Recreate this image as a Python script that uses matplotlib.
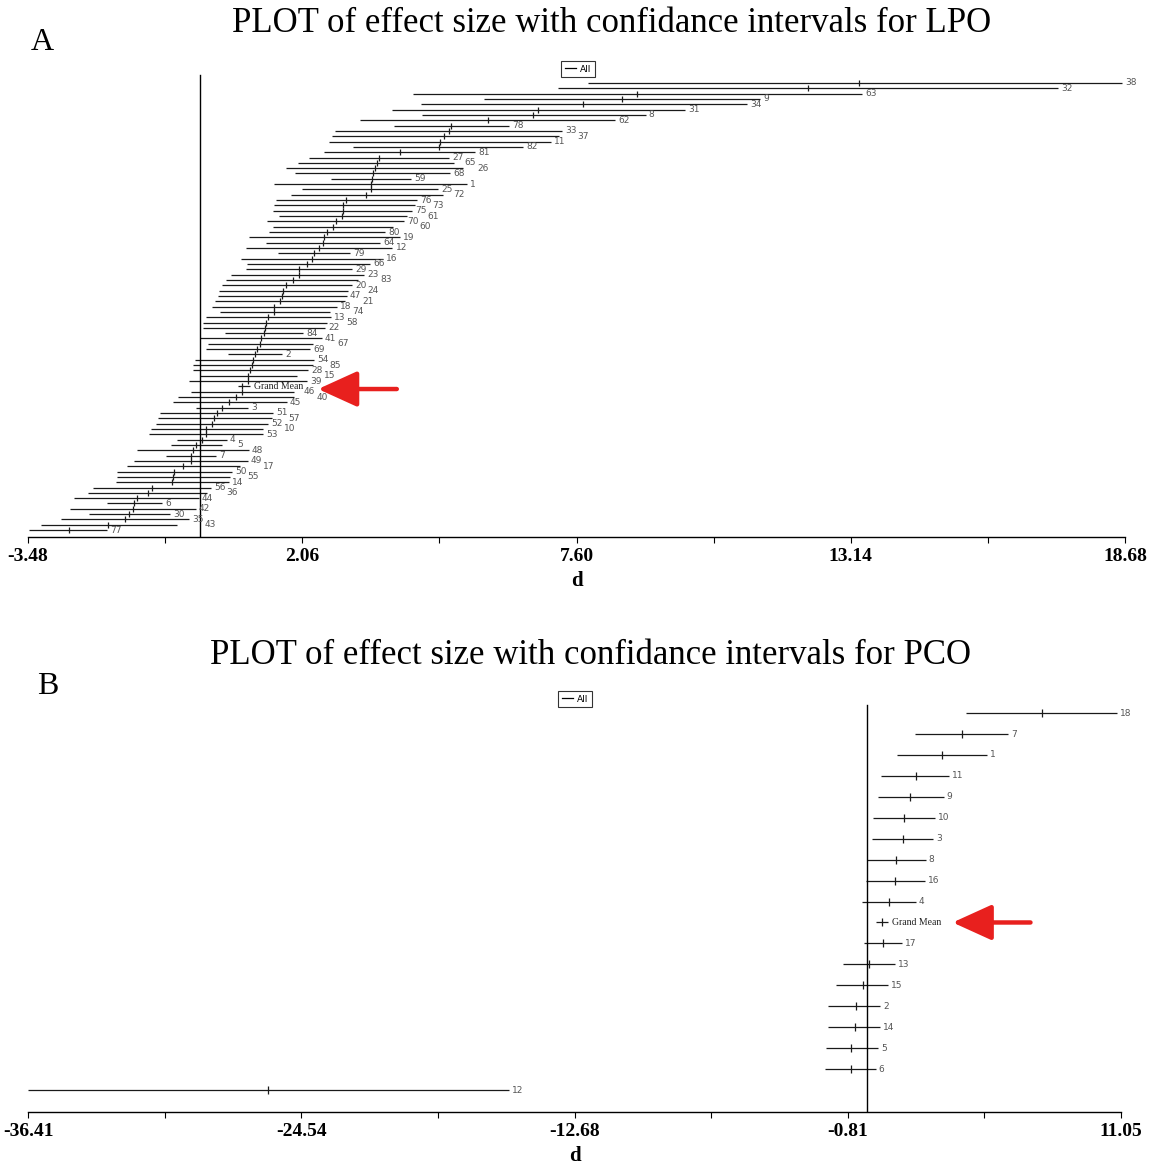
import matplotlib.pyplot as plt
from matplotlib.lines import Line2D

# LPO studies, top to bottom (Grand Mean sits in the list at its sorted place)
lpo_labels = ['38', '32', '63', '9', '34', '31', '8', '62', '78', '33', '37', '11', '82', '81',
              '27', '65', '26', '68', '59', '1', '25', '72', '76', '73', '75', '61', '70', '60',
              '80', '19', '64', '12', '79', '16', '66', '29', '23', '83', '20', '24', '47', '21',
              '18', '74', '13', '58', '22', '84', '41', '67', '69', '2', '54', '85', '28', '15',
              '39', 'Grand Mean', '46', '40', '45', '3', '51', '57', '52', '10', '53', '4', '5',
              '48', '7', '49', '17', '50', '55', '14', '56', '36', '44', '6', '42', '30', '35',
              '43', '77']
lpo_low = [7.83, 7.23, 4.30, 5.73, 4.46, 3.87, 4.48, 3.23, 3.91, 2.72, 2.66, 2.60, 3.09, 2.50,
           2.20, 1.97, 1.73, 1.91, 2.64, 1.49, 2.06, 1.83, 1.53, 1.49, 1.47, 1.59, 1.35, 1.47,
           1.39, 0.98, 1.33, 0.92, 1.57, 0.82, 0.94, 0.92, 0.62, 0.52, 0.44, 0.38, 0.36, 0.30,
           0.24, 0.40, 0.12, 0.06, 0.06, 0.50, 0.00, 0.16, 0.12, 0.56, -0.11, -0.15, -0.15, 0.00,
           -0.23, 0.76, -0.19, -0.45, -0.55, -0.09, -0.81, -0.85, -0.89, -0.99, -1.03, -0.47, -0.59,
           -1.28, -0.69, -1.34, -1.48, -1.68, -1.68, -1.70, -2.17, -2.27, -2.55, -1.88, -2.63, -2.25, -2.81,
           -3.22, -3.46]
lpo_mean = [13.31, 12.28, 8.82, 8.52, 7.73, 6.82, 6.72, 5.81, 5.07, 5.03, 4.92, 4.84, 4.82, 4.04,
            3.61, 3.57, 3.53, 3.49, 3.47, 3.45, 3.45, 3.35, 2.94, 2.88, 2.88, 2.86, 2.74, 2.68,
            2.56, 2.50, 2.48, 2.40, 2.30, 2.26, 2.16, 1.99, 1.99, 1.87, 1.73, 1.67, 1.65, 1.61,
            1.49, 1.49, 1.37, 1.33, 1.31, 1.29, 1.23, 1.21, 1.15, 1.11, 1.07, 1.05, 1.01, 0.96,
            0.96, 0.84, 0.84, 0.72, 0.58, 0.44, 0.34, 0.28, 0.24, 0.12, 0.12, 0.04, -0.09,
            -0.15, -0.19, -0.19, -0.35, -0.53, -0.55, -0.57, -0.98, -1.06, -1.28, -1.34, -1.36, -1.44, -1.52,
            -1.86, -2.65]
lpo_high = [18.62, 17.33, 13.37, 11.31, 11.05, 9.79, 9.00, 8.38, 6.24, 7.31, 7.25, 7.09, 6.52, 5.55,
            5.03, 5.13, 5.31, 5.05, 4.26, 5.39, 4.80, 4.90, 4.38, 4.34, 4.28, 4.18, 4.12, 3.89,
            3.73, 4.04, 3.63, 3.87, 3.03, 3.69, 3.43, 3.07, 3.31, 3.19, 3.07, 2.98, 2.96, 2.92,
            2.76, 2.62, 2.64, 2.56, 2.52, 2.08, 2.46, 2.28, 2.22, 1.65, 2.30, 2.28, 2.18, 1.95,
            2.16, 1.00, 1.89, 1.89, 1.75, 0.96, 1.47, 1.45, 1.37, 1.27, 1.27, 0.54, 0.44,
            0.98, 0.32, 0.96, 0.80, 0.64, 0.60, 0.58, 0.22, 0.14, -0.03, -0.77, -0.09, -0.61, -0.23,
            -0.47, -1.88]
lpo_ticks = [-3.48, 2.06, 7.60, 13.14, 18.68]

# PCO studies
pco_labels = ['18', '7', '1', '11', '9', '10', '3', '8', '16', '4', 'Grand Mean',
              '17', '13', '15', '2', '14', '5', '6', '12']
pco_low = [4.30, 2.09, 1.31, 0.62, 0.49, 0.27, 0.25, 0.01, -0.03, -0.20, 0.40,
           -0.12, -1.03, -1.33, -1.68, -1.68, -1.76, -1.81, -36.41]
pco_mean = [7.64, 4.13, 3.26, 2.13, 1.87, 1.61, 1.60, 1.27, 1.23, 0.97, 0.66,
            0.71, 0.10, -0.16, -0.46, -0.51, -0.68, -0.68, -25.97]
pco_high = [10.88, 6.16, 5.25, 3.56, 3.35, 2.96, 2.88, 2.57, 2.53, 2.13, 0.92,
            1.53, 1.22, 0.92, 0.58, 0.58, 0.49, 0.40, -15.54]
pco_ticks = [-36.41, -24.54, -12.68, -0.81, 11.05]

plt.rcParams['font.family'] = 'Liberation Serif'

W, H = 1155, 1166
fig = plt.figure(figsize=(W / 100, H / 100), dpi=100)

NUM_SIZE = 6.5      # pt, study numbers
GM_SIZE = 7         # pt, "Grand Mean"


def px_axes(left, right, top, bottom):
    return fig.add_axes([left / W, 1 - bottom / H, (right - left) / W, (bottom - top) / H])


def label_width(lab):
    # rough width in pixels at 100 dpi
    if lab == 'Grand Mean':
        return 50
    return len(lab) * 0.64 * NUM_SIZE * 100 / 72


def forest(ax, labels, low, mean, high, ticks, ybottom, ytop, vline_top, msize, width_px,
           cascade):
    n = len(labels)
    rows = list(range(n))
    ax.hlines(rows, low, high, color='#1a1a1a', lw=0.9)
    ax.plot(mean, rows, ls='none', marker='|', ms=msize, mew=0.9, color='#1a1a1a')

    ppu = width_px / (ticks[-1] - ticks[0])
    prev = None
    for i, lab in enumerate(labels):
        end_px = (high[i] - ticks[0]) * ppu
        x0 = end_px + 3
        w = label_width(lab)
        # push crowded numbers along so neighbouring rows stay readable
        if cascade and prev is not None and x0 < prev[1] + 1 and x0 + w > prev[0] - 1:
            x0 = prev[1] + 1
        prev = (x0, x0 + w)
        off = (x0 - end_px) * 0.72
        if lab == 'Grand Mean':
            ax.annotate(lab, (high[i], i), xytext=(off + 1, 0), textcoords='offset points',
                        fontsize=GM_SIZE, va='center', ha='left', color='#222')
        else:
            ax.annotate(lab, (high[i], i), xytext=(off, 0), textcoords='offset points',
                        fontsize=NUM_SIZE, va='center', ha='left', color='#555',
                        family='DejaVu Sans')
    ax.set_xlim(ticks[0], ticks[-1])
    ax.set_ylim(ybottom, ytop)
    ax.plot([0, 0], [vline_top, ybottom], color='black', lw=1.0)
    for s in ['top', 'right', 'left']:
        ax.spines[s].set_visible(False)
    ax.spines['bottom'].set_linewidth(1.0)
    ax.set_yticks([])
    ax.set_xticks(ticks)
    ax.set_xticklabels(['%.2f' % t for t in ticks], fontsize=14, fontweight='bold')
    ax.set_xticks([(a + b) / 2 for a, b in zip(ticks[:-1], ticks[1:])], minor=True)
    ax.tick_params(axis='x', which='both', direction='out', length=4, width=0.8, pad=4)
    ax.set_xlabel('d', fontsize=15, fontweight='bold', labelpad=4)


def arrow(ax, tip, tail, y):
    ax.annotate('', xy=(tip, y), xytext=(tail, y),
                arrowprops=dict(arrowstyle='-|>,head_length=1.1,head_width=0.5',
                                color='#e8201e', lw=3.2, mutation_scale=22,
                                shrinkA=0, shrinkB=0))


def all_legend(x, y):
    h = [Line2D([], [], color='black', lw=0.9)]
    fig.legend(h, ['All'], loc='center', bbox_to_anchor=(x / W, 1 - y / H),
               prop={'family': 'DejaVu Sans', 'size': 6.5}, frameon=True, fancybox=False,
               edgecolor='black', handlelength=1.3, handletextpad=0.4, borderpad=0.4,
               borderaxespad=0).get_frame().set_linewidth(0.8)


# Panel A: LPO
ax_a = px_axes(28, 1125, 55, 537)
forest(ax_a, lpo_labels, lpo_low, lpo_mean, lpo_high, lpo_ticks,
       ybottom=85.3, ytop=-5.26, vline_top=-1.5, msize=5, width_px=1097, cascade=True)
arrow(ax_a, 2.38, 3.97, 57.5)
all_legend(578, 69)
fig.text(612 / W, 1 - 24 / H, 'PLOT of effect size with confidance intervals for LPO',
         ha='center', va='center', fontsize=25)
fig.text(42 / W, 1 - 42 / H, 'A', ha='center', va='center', fontsize=23)

# Panel B: PCO
ax_b = px_axes(28, 1121, 685, 1112)
forest(ax_b, pco_labels, pco_low, pco_mean, pco_high, pco_ticks,
       ybottom=19.05, ytop=-1.34, vline_top=-0.38, msize=6, width_px=1093, cascade=False)
arrow(ax_b, 3.74, 7.12, 10)
all_legend(575, 699)
fig.text(590 / W, 1 - 655 / H, 'PLOT of effect size with confidance intervals for PCO',
         ha='center', va='center', fontsize=25)
fig.text(48 / W, 1 - 686 / H, 'B', ha='center', va='center', fontsize=23)

fig.savefig('out.png', dpi=100)
